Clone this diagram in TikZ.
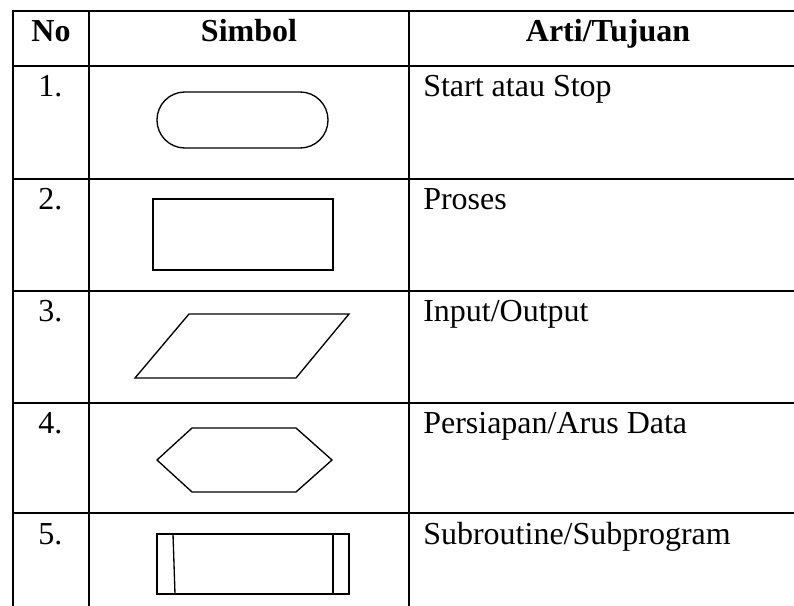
\documentclass[tikz,border=0pt]{standalone}
\usepackage{fontspec}
\setmainfont{Liberation Serif}
\begin{document}
\begin{tikzpicture}[x=0.75pt,y=-0.75pt,
  grid/.style={line width=1.5pt,black},
  shp/.style={line width=1pt,black,line join=miter},
  hdr/.style={anchor=base,inner sep=0pt,font=\fontsize{24}{28}\selectfont\bfseries},
  txt/.style={anchor=base west,inner sep=0pt,font=\fontsize{24}{28}\selectfont}]
\useasboundingbox (0,0) rectangle (794,606);
% table grid
\foreach \yy in {11,66,179,291,403,513} \draw[grid] (12.3,\yy) -- (800,\yy);
\foreach \xx in {13,89,409} \draw[grid] (\xx,11) -- (\xx,610);
% headers
\node[hdr] (hno) at (51,42) {No};
\node[hdr] (hsim) at (249,42) {Simbol};
\node[hdr] (hart) at (608,42) {Arti/Tujuan};
% numbers
\node[txt] (n1) at (38,97) {1.};
\node[txt] (n2) at (38,210) {2.};
\node[txt] (n3) at (38,322) {3.};
\node[txt] (n4) at (38,434) {4.};
\node[txt] (n5) at (38,545) {5.};
% meanings
\node[txt] (t1) at (423,97) {Start atau Stop};
\node[txt] (t2) at (423,210) {Proses};
\node[txt] (t3) at (423,322) {Input/Output};
\node[txt] (t4) at (423,434) {Persiapan/Arus Data};
\node[txt] (t5) at (423,545) {Subroutine/Subprogram};
% symbols
\draw[shp,rounded corners=20.9pt] (157,92) rectangle (328,148);
\draw[shp] (153,199) rectangle (333,270);
\draw[shp] (189,314) -- (349,314) -- (296,378) -- (135,378) -- cycle;
\draw[shp] (157,460) -- (192,428) -- (296,428) -- (332,460) -- (296,492) -- (192,492) -- cycle;
\draw[shp] (157,534) rectangle (349,594);
\draw[shp] (173,534) -- (175,594);
\draw[shp] (333,534) -- (333,594);
\end{tikzpicture}
\end{document}
